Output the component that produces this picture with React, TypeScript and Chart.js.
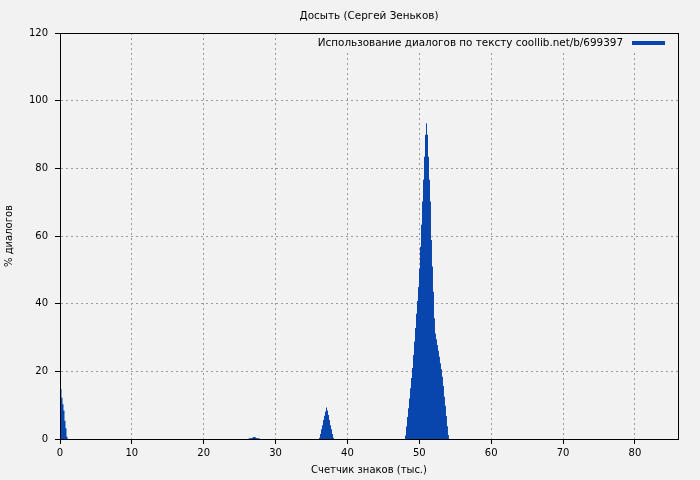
import React, { useEffect, useRef } from 'react';
import { Chart, registerables } from 'chart.js';

Chart.register(...registerables);

const TITLE = 'Досыть (Сергей Зеньков)';
const SERIES_LABEL = 'Использование диалогов по тексту coollib.net/b/699397';
const X_TITLE = 'Счетчик знаков (тыс.)';
const Y_TITLE = '% диалогов';

const X_TICKS = [0, 10, 20, 30, 40, 50, 60, 70, 80];
const Y_TICKS = [0, 20, 40, 60, 80, 100, 120];

// histogram bin width (thousands of characters)
const BIN = 0.139;

// left edges of each group of non-empty bins
const GROUP_STARTS = [0.07, 26.26, 36.04, 48.01];
const GROUP_A = [14.8, 12.2, 10.3, 8.4, 5.4, 3.2, 0.7];
const GROUP_B = [0.2, 0.2, 0.2, 0.3, 0.6, 0.6, 0.6, 0.3, 0.2, 0.2, 0.2];
const GROUP_C = [0.4, 1.5, 2.9, 4.1, 5.6, 6.9, 8.1, 9.3, 8.4, 7.1, 5.6, 4.1, 2.9, 1.5, 0.4];
const GROUP_D = [
  1.0, 3.7, 6.5, 9.1, 12.0, 15.0, 18.0, 21.0, 24.8, 28.8, 32.8, 37.0, 40.8, 44.9,
  50.4, 56.8, 63.3, 70.2, 76.6, 83.4, 89.9, 93.3,
  89.9, 83.4, 76.6, 70.2, 58.8, 51.0, 43.5, 35.7, 31.2, 29.5, 27.8, 26.1, 24.3,
  22.4, 20.6, 18.4, 15.7, 12.5, 9.8, 6.8, 3.8, 1.2,
];
const GROUPS = [GROUP_A, GROUP_B, GROUP_C, GROUP_D];

const BG = '#f2f2f2';
const BAR = '#0846ad';
const FONT = '"DejaVu Sans", sans-serif';

const overlay = {
  id: 'overlay',
  afterDraw(chart: any) {
    const { ctx, chartArea: a } = chart;
    ctx.save();
    // title centred over the plot area
    ctx.fillStyle = '#000';
    ctx.font = `10.4px ${FONT}`;
    ctx.textAlign = 'center';
    ctx.textBaseline = 'middle';
    ctx.fillText(TITLE, (a.left + a.right) / 2, 16);

    // legend inside the plot, top right
    const label = chart.data.datasets[0].label;
    const textRight = a.right - 55;
    const tw = ctx.measureText(label).width;
    ctx.fillStyle = BG;
    ctx.fillRect(textRight - tw - 6, a.top + 1, a.right - 1 - (textRight - tw - 6), 17);
    ctx.fillStyle = '#000';
    ctx.textAlign = 'right';
    ctx.fillText(label, textRight, a.top + 10);
    ctx.fillStyle = BAR;
    ctx.fillRect(a.right - 46, a.top + 8, 33, 4);

    // frame
    ctx.strokeStyle = '#000';
    ctx.lineWidth = 1;
    ctx.strokeRect(a.left + 0.5, a.top + 0.5, a.right - a.left, a.bottom - a.top);
    ctx.restore();
  },
};

export default function App() {
  const ref = useRef<HTMLCanvasElement | null>(null);

  useEffect(() => {
    if (!ref.current) return;
    // histogram outline: every bin contributes its top-left and top-right corner
    const points: { x: number; y: number }[] = [];
    GROUPS.forEach((vals, g) => {
      const start = GROUP_STARTS[g];
      points.push({ x: start, y: 0 });
      vals.forEach((v, i) => {
        points.push({ x: start + i * BIN, y: v });
        points.push({ x: start + (i + 1) * BIN, y: v });
      });
      points.push({ x: start + vals.length * BIN, y: 0 });
    });

    Chart.defaults.font.family = FONT;
    Chart.defaults.font.size = 10;
    Chart.defaults.color = '#000';

    const gridOpts = {
      color: '#9a9a9a',
      lineWidth: 1,
      drawTicks: true,
      tickLength: 5,
      tickColor: '#000',
      tickBorderDash: [],
      tickWidth: 1,
    };
    const borderOpts = { display: true, color: '#000', width: 1, dash: [2, 3] };

    const chart = new Chart(ref.current, {
      type: 'line',
      data: {
        datasets: [
          {
            label: SERIES_LABEL,
            data: points as any,
            fill: 'origin',
            tension: 0,
            backgroundColor: BAR,
            borderColor: 'rgba(0,0,0,0)',
            borderWidth: 0,
            // a dash pattern keeps Chart.js on the exact (non-decimating) path
            borderDash: [1, 1],
            pointRadius: 0,
            pointHoverRadius: 0,
          },
        ],
      },
      plugins: [overlay],
      options: {
        animation: false,
        responsive: false,
        devicePixelRatio: 1,
        layout: { padding: { top: 33, right: 22, left: 0, bottom: 0 } },
        plugins: {
          legend: { display: false },
          title: { display: false },
          tooltip: { enabled: false },
        },
        scales: {
          x: {
            type: 'linear',
            min: 0,
            max: 86,
            offset: false,
            afterBuildTicks: (s: any) => {
              s.ticks = X_TICKS.map((v) => ({ value: v }));
            },
            afterFit: (s: any) => {
              s.height = 41;
            },
            grid: { ...gridOpts, offset: false },
            border: borderOpts,
            ticks: {
              padding: 3,
              maxRotation: 0,
              autoSkip: false,
              font: { size: 10 },
              color: '#000',
            },
            title: {
              display: true,
              text: X_TITLE,
              font: { size: 10 },
              color: '#000',
              padding: { top: 0, bottom: 4 },
            },
          },
          y: {
            type: 'linear',
            min: 0,
            max: 120,
            afterBuildTicks: (s: any) => {
              s.ticks = Y_TICKS.map((v) => ({ value: v }));
            },
            afterFit: (s: any) => {
              s.width = 60;
            },
            grid: gridOpts,
            border: borderOpts,
            ticks: {
              padding: 7,
              font: { size: 10 },
              color: '#000',
            },
            title: {
              display: true,
              text: Y_TITLE,
              font: { size: 10 },
              color: '#000',
              padding: { top: 3, bottom: 0 },
            },
          },
        },
      } as any,
    });
    return () => chart.destroy();
  }, []);

  return (
    <div style={{ position: 'absolute', left: 0, top: 0, width: 700, height: 480, background: BG }}>
      <canvas ref={ref} width={700} height={480} style={{ display: 'block', background: BG }} />
    </div>
  );
}
